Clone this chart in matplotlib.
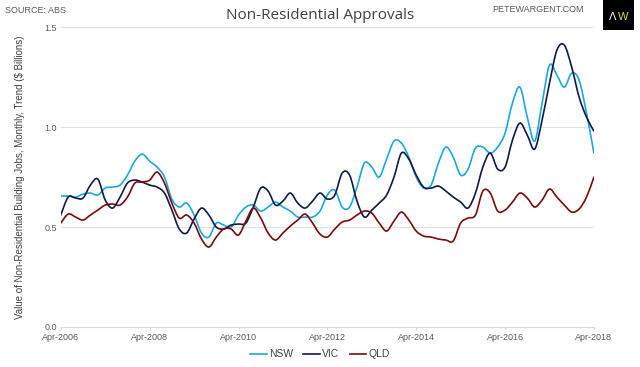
import matplotlib
matplotlib.use("Agg")
import matplotlib.pyplot as plt
from matplotlib.patches import Rectangle, PathPatch
from matplotlib.path import Path
from matplotlib.lines import Line2D

plt.rcParams['font.family'] = ['Liberation Sans', 'DejaVu Sans']

# months since Apr-2006, every 2 months
months = list(range(0, 145, 2))

nsw = [0.655, 0.655, 0.65, 0.665, 0.67, 0.66, 0.695, 0.70, 0.71, 0.76, 0.83, 0.865,
       0.83, 0.80, 0.75, 0.64, 0.60, 0.62, 0.56, 0.47, 0.45, 0.52, 0.51, 0.50,
       0.56, 0.60, 0.61, 0.58, 0.60, 0.625, 0.60, 0.58, 0.55, 0.55, 0.55, 0.58,
       0.66, 0.685, 0.60, 0.60, 0.70, 0.82, 0.80, 0.75, 0.84, 0.93, 0.92, 0.85,
       0.75, 0.695, 0.71, 0.82, 0.90, 0.85, 0.76, 0.79, 0.895, 0.90, 0.87, 0.90,
       0.97, 1.12, 1.20, 1.05, 0.93, 1.12, 1.31, 1.26, 1.20, 1.27, 1.235, 1.07, 0.87]

vic = [0.56, 0.65, 0.645, 0.645, 0.71, 0.74, 0.635, 0.595, 0.65, 0.72, 0.735, 0.725,
       0.71, 0.70, 0.67, 0.585, 0.49, 0.47, 0.54, 0.595, 0.56, 0.50, 0.49, 0.51,
       0.515, 0.52, 0.60, 0.695, 0.68, 0.61, 0.63, 0.67, 0.62, 0.595, 0.63, 0.67,
       0.64, 0.66, 0.77, 0.76, 0.63, 0.55, 0.585, 0.62, 0.66, 0.75, 0.87, 0.84,
       0.76, 0.70, 0.695, 0.705, 0.68, 0.65, 0.625, 0.595, 0.67, 0.80, 0.87, 0.79,
       0.80, 0.935, 1.02, 0.96, 0.89, 1.035, 1.22, 1.385, 1.41, 1.30, 1.15, 1.05, 0.98]

qld = [0.52, 0.565, 0.55, 0.535, 0.56, 0.585, 0.61, 0.615, 0.61, 0.65, 0.72, 0.725,
       0.735, 0.775, 0.72, 0.62, 0.545, 0.56, 0.52, 0.44, 0.40, 0.45, 0.49, 0.49,
       0.46, 0.53, 0.595, 0.545, 0.47, 0.435, 0.47, 0.505, 0.535, 0.565, 0.52, 0.465,
       0.45, 0.49, 0.525, 0.535, 0.56, 0.58, 0.57, 0.52, 0.48, 0.53, 0.575, 0.535,
       0.48, 0.455, 0.45, 0.44, 0.435, 0.43, 0.52, 0.545, 0.56, 0.68, 0.67, 0.58,
       0.585, 0.625, 0.67, 0.645, 0.60, 0.635, 0.69, 0.65, 0.61, 0.575, 0.59, 0.65, 0.75]

series_names = ["NSW", "VIC", "QLD"]
series_colors = ["#1BA8E0", "#0E1A4A", "#7A0A0A"]

tick_months = [0, 24, 48, 72, 96, 120, 144]
tick_labels = ["Apr-2006", "Apr-2008", "Apr-2010", "Apr-2012", "Apr-2014", "Apr-2016", "Apr-2018"]
y_ticks = [0.0, 0.5, 1.0, 1.5]


def smooth_path(xs, ys):
    """Excel-style smoothed line: Bezier segments through the data points."""
    verts = [(xs[0], ys[0])]
    codes = [Path.MOVETO]
    n = len(xs)
    for i in range(n - 1):
        x0, y0 = (xs[i - 1], ys[i - 1]) if i > 0 else (xs[i], ys[i])
        x1, y1 = xs[i], ys[i]
        x2, y2 = xs[i + 1], ys[i + 1]
        x3, y3 = (xs[i + 2], ys[i + 2]) if i + 2 < n else (xs[i + 1], ys[i + 1])
        c1 = (x1 + (x2 - x0) / 6.0, y1 + (y2 - y0) / 6.0)
        c2 = (x2 - (x3 - x1) / 6.0, y2 - (y3 - y1) / 6.0)
        verts += [c1, c2, (x2, y2)]
        codes += [Path.CURVE4] * 3
    return Path(verts, codes)


fig = plt.figure(figsize=(6.4, 3.67), dpi=100)
ax = fig.add_axes([0.095, 0.109, 0.833, 0.817])

handles = []
for name, col, vals in zip(series_names, series_colors, [nsw, vic, qld]):
    ax.add_patch(PathPatch(smooth_path(months, vals), facecolor="none",
                           edgecolor=col, lw=1.2, capstyle='round', joinstyle='round'))
    handles.append(Line2D([], [], color=col, lw=1.2, label=name))

ax.set_xlim(0, 144)
ax.set_ylim(0, 1.5)
ax.set_yticks(y_ticks)
ax.set_yticklabels([f"{v:.1f}" for v in y_ticks])
ax.set_xticks(tick_months)
ax.set_xticklabels(tick_labels)
ax.tick_params(axis='both', labelsize=6.5, colors="#595959", length=0, pad=3)
ax.tick_params(axis='x', length=2, color="#d9d9d9", pad=2)
ax.grid(axis='y', color="#e3e3e3", lw=0.8)
ax.set_axisbelow(True)
for s in ['top', 'right', 'left']:
    ax.spines[s].set_visible(False)
ax.spines['bottom'].set_color("#d9d9d9")
ax.spines['bottom'].set_linewidth(0.8)

ax.set_ylabel("Value of Non-Residential Building Jobs, Monthly, Trend ($ Billions)",
              fontsize=7, color="#404040", labelpad=14)

leg = fig.legend(handles=handles, loc='center', bbox_to_anchor=(0.5, 0.035), ncol=3,
                 frameon=False, fontsize=7.5, handlelength=1.6, columnspacing=1.0,
                 handletextpad=0.2)
for t in leg.get_texts():
    t.set_color("#404040")

fig.text(0.5, 0.958, "Non-Residential Approvals", ha='center', va='center',
         fontsize=11, color="#404040", family=['Open Sans', 'DejaVu Sans'])
fig.text(0.008, 0.972, "SOURCE: ABS", ha='left', va='center', fontsize=6.5, color="#595959")
fig.text(0.912, 0.975, "PETEWARGENT.COM", ha='right', va='center', fontsize=6.5, color="#595959")

fig.patches.append(Rectangle((0.942, 0.918), 0.048, 0.082, transform=fig.transFigure,
                             facecolor="black", edgecolor="none"))
fig.text(0.958, 0.955, "\u039b", ha='center', va='center', fontsize=8, color="white")
fig.text(0.973, 0.955, "W", ha='center', va='center', fontsize=8, color="#E8D84A")

fig.savefig("out.png", dpi=100)
